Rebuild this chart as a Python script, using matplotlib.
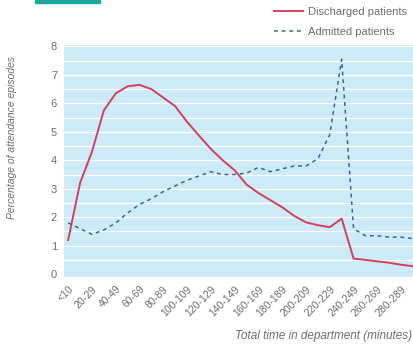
import matplotlib.pyplot as plt
from matplotlib.patches import Rectangle

categories = ["<10"] + [f"{a}-{a + 9}" for a in range(10, 300, 10)]
discharged = [1.2, 3.2, 4.3, 5.75, 6.35, 6.6, 6.65, 6.5, 6.2, 5.9,
              5.35, 4.87, 4.4, 4.0, 3.65, 3.15, 2.85, 2.6, 2.35, 2.05,
              1.82, 1.72, 1.65, 1.95, 0.55, 0.5, 0.45, 0.4, 0.33, 0.28]
admitted = [1.8, 1.6, 1.4, 1.55, 1.8, 2.15, 2.45, 2.65, 2.9, 3.1,
            3.3, 3.45, 3.6, 3.5, 3.5, 3.55, 3.75, 3.6, 3.7, 3.8,
            3.8, 4.05, 4.9, 7.55, 1.6, 1.35, 1.35, 1.3, 1.3, 1.25]
yticks = list(range(0, 9))

plt.rcParams["font.family"] = ["Liberation Sans", "DejaVu Sans"]

grey = "#6e6e6e"

fig = plt.figure(figsize=(4.13, 3.46), dpi=100)
ax = fig.add_axes([64 / 413, 1 - 277 / 346, 349 / 413, 232 / 346])
ax.set_facecolor("#cdeaf7")
for s in ax.spines.values():
    s.set_visible(False)

x = list(range(len(categories)))
for g in [i * 0.5 for i in range(1, 17)]:
    ax.axhline(g, color="white", lw=0.9, zorder=1)

ax.plot(x, discharged, color="#d2405c", lw=1.4, zorder=3,
        label="Discharged patients")
ax.plot(x, admitted, color="#3d6690", lw=1.1, ls=(0, (2.5, 2.5)), zorder=3,
        label="Admitted patients")

ax.set_xlim(-0.35, 29.0)
ax.set_ylim(-0.1, 8.05)
ax.set_yticks(yticks)
ax.set_yticklabels([str(v) for v in yticks], fontsize=8, color=grey)
ax.set_xticks(x[::2])
ax.set_xticklabels(categories[::2], rotation=45, ha="right",
                   rotation_mode="anchor", fontsize=7.5, color=grey)
ax.tick_params(length=0, pad=5)

ax.set_ylabel("Percentage of attendance episodes", fontsize=7.5, color=grey,
              style="italic")
ax.yaxis.set_label_coords(-0.135, 0.6)
fig.text(0.998, 1 - 336 / 346, "Total time in department (minutes)",
         ha="right", va="center", fontsize=8.5, color=grey, style="italic")

leg = fig.legend(loc="upper right", bbox_to_anchor=(1.01, 1.008),
                 frameon=False, fontsize=8, handlelength=2.6,
                 handletextpad=0.5, labelspacing=0.9)
for t in leg.get_texts():
    t.set_color(grey)

fig.patches.append(Rectangle((35 / 413, 1 - 3 / 346), 65 / 413, 3 / 346,
                             transform=fig.transFigure, color="#1aa89a"))

fig.savefig("out.png", dpi=100)
